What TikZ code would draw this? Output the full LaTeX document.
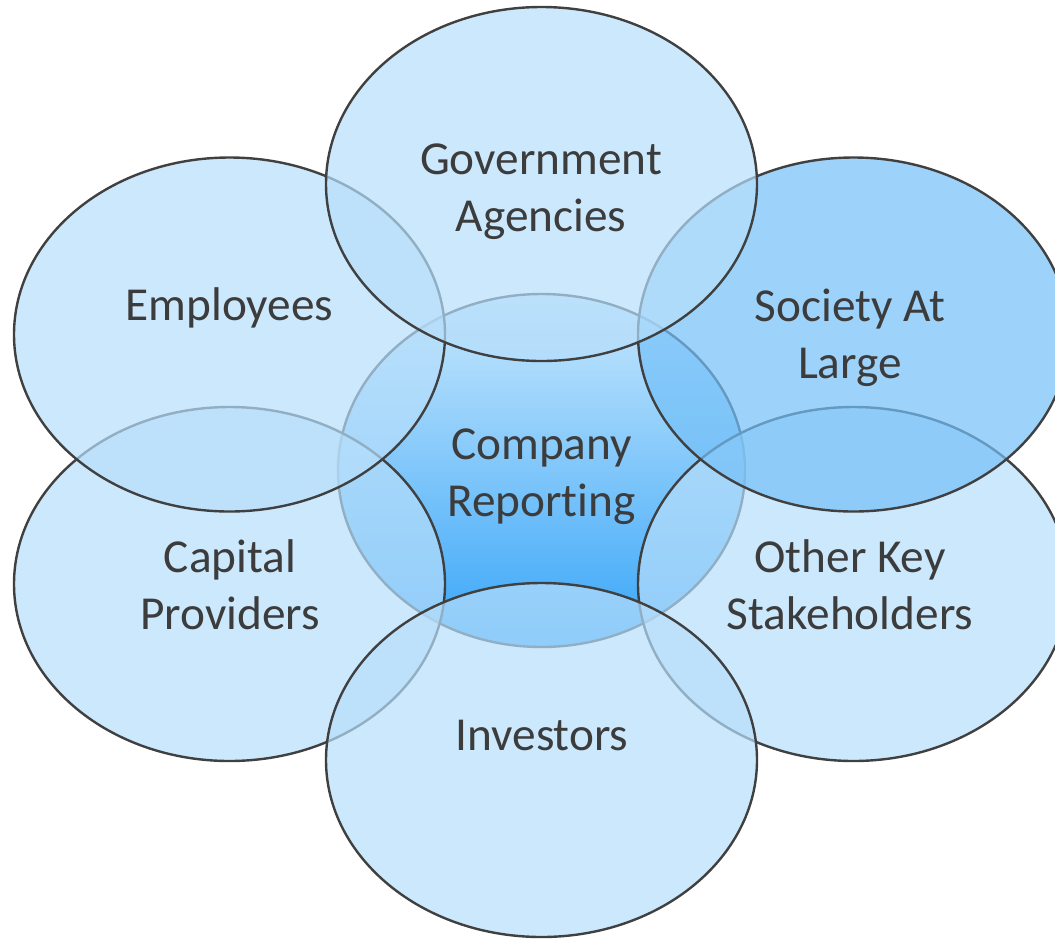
\documentclass[tikz,border=0pt]{standalone}
\usepackage{fontspec}
\setmainfont{Carlito}[Ligatures={NoCommon}]
\usetikzlibrary{shapes.geometric}

\definecolor{petalfill}{RGB}{182,222,251}
\definecolor{petaldeep}{RGB}{116,192,248}
\definecolor{rim}{RGB}{64,64,64}
\definecolor{hubtop}{RGB}{200,232,253}
\definecolor{hubbottom}{RGB}{55,165,248}
\definecolor{ink}{RGB}{60,60,60}

\tikzset{
  petal/.style={ellipse, draw=rim, line width=2.4pt, fill=petalfill,
    fill opacity=0.7, minimum width=431pt, minimum height=354pt, inner sep=0pt},
  hub/.style={ellipse, draw=rim, line width=2.4pt, top color=hubtop,
    bottom color=hubbottom, minimum width=407pt, minimum height=353pt, inner sep=0pt},
  % anchor=base sits on the baseline of the last line
  caption/.style={font=\fontsize{47.3}{56.5}\selectfont, text=ink, align=center,
    inner sep=0pt, anchor=base}
}

\begin{document}
\begin{tikzpicture}[x=1pt, y=-1pt]
  \useasboundingbox (0,0) rectangle (1055,938);

  % central ellipse at the bottom of the stack
  \node[hub] (hub) at (541.5,470.5) {};

  % outer ellipses, lowest first
  \node[petal] (capital) at (229.5,584) {};
  \node[petal] (other)   at (853.5,584) {};
  \node[petal] (employ)  at (229.5,334.5) {};
  \node[petal, fill=petaldeep] (society) at (853.5,334.5) {};
  \node[petal] (invest)  at (541.5,760) {};
  \node[petal] (govern)  at (541.5,184) {};

  % labels
  \node[caption] (govern-t)  at (541,231) {Government\\Agencies};
  \node[caption] (employ-t)  at (229.5,320) {Employees};
  \node[caption] (society-t) at (850,378) {Society At\\Large};
  \node[caption] (hub-t)     at (541.5,516) {Company\\Reporting};
  \node[caption] (capital-t) at (230,629) {Capital\\Providers};
  \node[caption] (other-t)   at (850,629) {Other Key\\Stakeholders};
  \node[caption] (invest-t)  at (542,750) {Investors};
\end{tikzpicture}
\end{document}
